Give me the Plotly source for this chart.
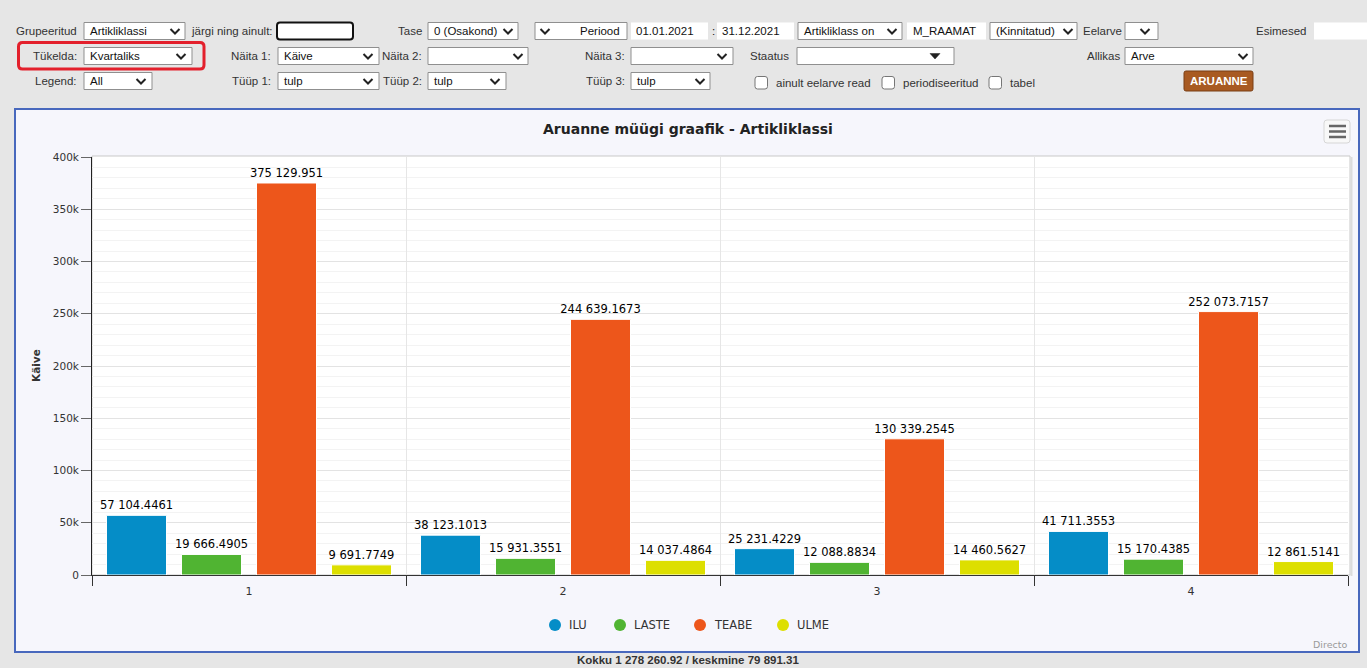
import plotly.graph_objects as go

# ---------------- data ----------------
quarters = ["1", "2", "3", "4"]
series_names = ["ILU", "LASTE", "TEABE", "ULME"]
ilu = [57104.4461, 38123.1013, 25231.4229, 41711.3553]
laste = [19666.4905, 15931.3551, 12088.8834, 15170.4385]
teabe = [375129.951, 244639.1673, 130339.2545, 252073.7157]
ulme = [9691.7749, 14037.4864, 14460.5627, 12861.5141]
series_values = [ilu, laste, teabe, ulme]
series_colors = ["#058DC7", "#50B432", "#ED561B", "#DDDF00"]
y_tick_vals = [0, 50000, 100000, 150000, 200000, 250000, 300000, 350000, 400000]
y_tick_text = ["0", "50k", "100k", "150k", "200k", "250k", "300k", "350k", "400k"]

title_text = "Aruanne müügi graafik - Artikliklassi"
y_title = "Käive"


def fmt(v):
    s = f"{v:.4f}".rstrip("0").rstrip(".")
    ip, _, dp = s.partition(".")
    ip = f"{int(ip):,}".replace(",", " ")
    return ip + ("." + dp if dp else "")


total = sum(sum(s) for s in series_values)
count = sum(len(s) for s in series_values)
mean = total / count


def fmt2(v):
    ip, dp = f"{v:.2f}".split(".")
    return f"{int(ip):,}".replace(",", " ") + "." + dp


footer = f"Kokku {fmt2(total)} / keskmine {fmt2(mean)}"

# ---------------- geometry helpers (pixel -> paper) ----------------
FW, FH = 1367, 668
L, R, T, B = 92, 1348, 157, 575
W, H = R - L, B - T


def px(x):
    return (x - L) / W


def py(y):
    return (B - y) / H


shapes = []
annotations = []

FORM_FONT = "Liberation Sans, Arial, sans-serif"
CHART_FONT = "DejaVu Sans, Verdana, sans-serif"


def rect(x0, y0, x1, y1, fill, line="rgba(0,0,0,0)", lw=1, layer="above"):
    shapes.append(dict(type="rect", xref="paper", yref="paper",
                       x0=px(x0), x1=px(x1), y0=py(y1), y1=py(y0),
                       fillcolor=fill, line=dict(color=line, width=lw), layer=layer))


def rrect(x0, y0, x1, y1, r, fill, line, lw=1, layer="above"):
    P = lambda x, y: f"{px(x)},{py(y)}"
    d = (f"M {P(x0 + r, y0)} L {P(x1 - r, y0)} Q {P(x1, y0)} {P(x1, y0 + r)} "
         f"L {P(x1, y1 - r)} Q {P(x1, y1)} {P(x1 - r, y1)} "
         f"L {P(x0 + r, y1)} Q {P(x0, y1)} {P(x0, y1 - r)} "
         f"L {P(x0, y0 + r)} Q {P(x0, y0)} {P(x0 + r, y0)} Z")
    shapes.append(dict(type="path", xref="paper", yref="paper", path=d,
                       fillcolor=fill, line=dict(color=line, width=lw), layer=layer))


def line(x0, y0, x1, y1, color, lw=1, layer="above"):
    shapes.append(dict(type="line", xref="paper", yref="paper",
                       x0=px(x0), x1=px(x1), y0=py(y0), y1=py(y1),
                       line=dict(color=color, width=lw), layer=layer))


def chevron(cx, cy, color="#222"):
    P = lambda x, y: f"{px(x)},{py(y)}"
    d = f"M {P(cx - 4.5, cy - 2)} L {P(cx, cy + 2.5)} L {P(cx + 4.5, cy - 2)}"
    shapes.append(dict(type="path", xref="paper", yref="paper", path=d,
                       line=dict(color=color, width=2), layer="above"))


def triangle(cx, cy, color="#222"):
    P = lambda x, y: f"{px(x)},{py(y)}"
    d = f"M {P(cx - 5, cy - 2.5)} L {P(cx + 5, cy - 2.5)} L {P(cx, cy + 3)} Z"
    shapes.append(dict(type="path", xref="paper", yref="paper", path=d,
                       fillcolor=color, line=dict(color=color, width=0.5), layer="above"))


def text(x, y, s, anchor="left", size=11.5, color="#333", family=FORM_FONT, bold=False, angle=0):
    annotations.append(dict(x=px(x), y=py(y), xref="paper", yref="paper", text=s,
                            showarrow=False, xanchor=anchor, yanchor="middle",
                            textangle=angle,
                            font=dict(size=size, color=color, family=family,
                                      weight="bold" if bold else "normal")))


def select(x0, x1, yc, label, chev_x):
    rect(x0, yc - 8.5, x1, yc + 8.5, "#ffffff", "#8f8f8f", 1)
    if label:
        text(x0 + 4, yc, label, color="#111")
    chevron(chev_x, yc)


# ---------------- page / container backgrounds ----------------
rect(15, 109, 1359, 652, "#f6f6fc", "#4868bd", 2, layer="below")
rect(92, 156, 1350, 575, "#ffffff", "#c9c9c9", 1, layer="below")
line(1351.5, 157, 1351.5, 576, "#dcdcdc", 2, layer="below")

# ---------------- form: row 1 ----------------
y1 = 31
text(79, y1, "Grupeeritud", "right")
select(84, 185, y1, "Artikliklassi", 175)
text(189, y1, "järgi ning ainult:", "left")
rrect(277, 22.5, 353, 39.5, 3, "#ffffff", "#111111", 2)
text(424, y1, "Tase", "right")
select(428, 518, y1, "0 (Osakond)", 508)
rect(535, y1 - 8.5, 627, y1 + 8.5, "#ffffff", "#8f8f8f", 1)
chevron(545, y1)
text(622, y1, "Periood", "right", color="#111")
rect(631, y1 - 8.5, 708, y1 + 8.5, "#ffffff")
text(634, y1, "01.01.2021", color="#111")
text(713, y1, ":", "center", color="#111")
rect(717, y1 - 8.5, 794, y1 + 8.5, "#ffffff")
text(720, y1, "31.12.2021", color="#111")
select(798, 902, y1, "Artikliklass on", 892)
rect(907, y1 - 8.5, 986, y1 + 8.5, "#ffffff")
text(911, y1, "M_RAAMAT", color="#111")
select(990, 1077, y1, "(Kinnitatud)", 1068)
text(1081, y1, "Eelarve", "left")
select(1125, 1158, y1, "", 1145)
text(1309, y1, "Esimesed", "right")
rect(1314, y1 - 8.5, 1367, y1 + 8.5, "#ffffff")

# ---------------- form: row 2 ----------------
y2 = 56
rrect(18.5, 42.5, 204, 69, 4, "rgba(0,0,0,0)", "#e3202c", 3)
text(79, y2, "Tükelda:", "right")
select(84, 192, y2, "Kvartaliks", 181)
text(273, y2, "Näita 1:", "right")
select(278, 379, y2, "Käive", 368)
text(424, y2, "Näita 2:", "right")
select(428, 528, y2, "", 518)
text(627, y2, "Näita 3:", "right")
select(631, 733, y2, "", 722)
text(748, y2, "Staatus", "left")
rect(797, y2 - 8.5, 954, y2 + 8.5, "#ffffff", "#8f8f8f", 1)
triangle(935, y2)
text(1122, y2, "Allikas", "right")
select(1125, 1253, y2, "Arve", 1243)

# ---------------- form: row 3 ----------------
y3 = 81
text(79, y3, "Legend:", "right")
select(84, 152, y3, "All", 141)
text(273, y3, "Tüüp 1:", "right")
select(278, 379, y3, "tulp", 368)
text(424, y3, "Tüüp 2:", "right")
select(428, 506, y3, "tulp", 495)
text(627, y3, "Tüüp 3:", "right")
select(631, 710, y3, "tulp", 700)
for cbx, lab in [(755, "ainult eelarve read"), (882, "periodiseeritud"), (989, "tabel")]:
    rrect(cbx, 76.5, cbx + 12.5, 89, 2.5, "#ffffff", "#767676", 1)
    text(cbx + 19, 83, lab, "left")
rrect(1184, 71, 1253, 91, 2, "#a85a22", "#7a3f14", 1)
text(1218.5, 81, "ARUANNE", "center", size=11.5, color="#ffffff", bold=True)

# ---------------- chart chrome ----------------
text(688, 129, title_text, "center", size=14, color="#222", family=CHART_FONT, bold=True)
rrect(1324, 120, 1350, 143, 3, "#f8f8f8", "#d6d6d6", 1)
for yy in (126, 131.5, 137):
    line(1329, yy, 1346, yy, "#666666", 2.5)
text(36, 366, y_title, "center", size=10.5, color="#333", family=CHART_FONT, bold=True, angle=-90)
text(1349, 644, "Directo", "right", size=9.5, color="#9a9a9a", family=CHART_FONT)
text(688, 660, footer, "center", size=11.5, color="#333", family=FORM_FONT, bold=True)

# legend (circles + labels)
legend_x = [555, 620, 700, 783]
for name, col, lx in zip(series_names, series_colors, legend_x):
    shapes.append(dict(type="circle", xref="paper", yref="paper",
                       x0=px(lx - 6), x1=px(lx + 6), y0=py(631), y1=py(619),
                       fillcolor=col, line=dict(color=col, width=0)))
    text(lx + 12, 625, name, "left", size=11.5, color="#333", family=CHART_FONT)

# ---------------- traces ----------------
fig = go.Figure()
for name, vals, col in zip(series_names, series_values, series_colors):
    fig.add_trace(go.Bar(
        x=quarters, y=vals, name=name,
        marker=dict(color=col, line=dict(color="#ffffff", width=1)),
        text=[fmt(v) for v in vals], textposition="outside",
        textfont=dict(size=11.5, color="#000", family=CHART_FONT),
        constraintext="none", cliponaxis=False, showlegend=False,
    ))

fig.update_layout(
    width=FW, height=FH, autosize=False,
    margin=dict(l=L, r=FW - R, t=T, b=FH - B, pad=0),
    paper_bgcolor="#e6e6e6", plot_bgcolor="rgba(0,0,0,0)",
    barmode="group", bargap=0.0446, bargroupgap=0.2,
    showlegend=False,
    shapes=shapes, annotations=annotations,
    font=dict(family=CHART_FONT, color="#333"),
)
fig.update_xaxes(
    type="category", range=[-0.5, 3.5], tickson="boundaries",
    ticks="outside", ticklen=10, tickcolor="#333", tickwidth=1,
    showline=True, linecolor="#333", linewidth=1,
    showgrid=True, gridcolor="#e6e6e6", zeroline=False,
    ticklabelstandoff=6,
    tickfont=dict(size=11, color="#333", family=CHART_FONT),
)
fig.update_yaxes(
    range=[0, 400000], tickvals=y_tick_vals, ticktext=y_tick_text,
    ticks="outside", ticklen=10, tickcolor="#666", tickwidth=1,
    showline=True, linecolor="#222", linewidth=1,
    showgrid=True, gridcolor="#e3e3e3", zeroline=False,
    minor=dict(dtick=10000, showgrid=True, gridcolor="#f3f3f3"),
    tickfont=dict(size=10.5, color="#333", family=CHART_FONT),
)

fig.write_html(
    "out.html",
    config={"displayModeBar": False},
    post_script="document.body.style.margin='0';document.body.style.overflow='hidden';",
)
